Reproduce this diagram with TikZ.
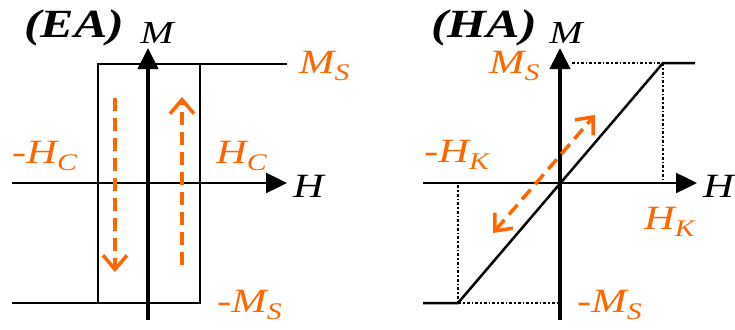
\documentclass[tikz,border=0pt]{standalone}
\usepackage{fontspec}
\setmainfont{Liberation Serif}[FakeStretch=1.25]
\usetikzlibrary{arrows.meta}
\definecolor{orng}{RGB}{255,102,0}

\begin{document}
\begin{tikzpicture}[x=1pt, y=-1pt,
  axis/.style={line width=2.5pt, -{Triangle[length=21pt, width=20pt]}},
  maxis/.style={axis, line width=4pt},
  loop/.style={line width=2.5pt},
  guide/.style={line width=2pt, dash pattern=on 3pt off 2pt on 1.5pt off 2pt},
  barb/.tip={Straight Barb[length=14pt, width=24pt]},
  sweep/.style={draw=orng, line width=3.5pt, dash pattern=on 13pt off 7pt, -barb},
  lbl/.style={font=\fontsize{34}{36}\selectfont\itshape, inner sep=0pt, anchor=west},
  axlbl/.style={lbl, font=\fontsize{32}{34}\selectfont\itshape, anchor=center},
  val/.style={lbl, text=orng},
  tag/.style={font=\fontsize{40}{42}\selectfont\bfseries\itshape, inner sep=0pt}]

\useasboundingbox (0,0) rectangle (735,329);

% ---------- Easy axis ----------
\node[tag]   (e-tag) at (74,28)   {(EA)};
\node[axlbl] (e-M)   at (157,33)  {M};
\node[lbl]   (e-H)   at (293,186) {H};
\node[val]   (e-Ms)  at (299,66)  {M\textsubscript{S}};
\node[val]   (e-mHc) at (12,156)  {-H\textsubscript{C}};
\node[val]   (e-Hc)  at (216,156) {H\textsubscript{C}};
\node[val]   (e-mMs) at (217,305) {-M\textsubscript{S}};

\coordinate (e-h0) at (12,183);
\coordinate (e-h1) at (287,183);
\coordinate (e-m0) at (148,320);
\coordinate (e-m1) at (148,48);
\coordinate (e-bl) at (12,303);
\coordinate (e-p1) at (98,303);
\coordinate (e-p2) at (98,64);
\coordinate (e-p3) at (200,64);
\coordinate (e-p4) at (200,303);
\coordinate (e-tr) at (287,64);
\coordinate (e-d0) at (115,98);
\coordinate (e-d1) at (115,272);
\coordinate (e-u0) at (182,265);
\coordinate (e-u1) at (182,97);

\draw[loop] (e-bl) -- (e-p1) -- (e-p2) -- (e-p3) -- (e-tr);
\draw[loop] (e-p3) -- (e-p4) -- (e-p1);
\draw[axis]  (e-h0) -- (e-h1);
\draw[maxis] (e-m0) -- (e-m1);
\draw[sweep] (e-d0) -- (e-d1);
\draw[sweep] (e-u0) -- (e-u1);

% ---------- Hard axis ----------
\node[tag]   (h-tag) at (484,28)  {(HA)};
\node[axlbl] (h-M)   at (566,33)  {M};
\node[lbl]   (h-H)   at (703,186) {H};
\node[val]   (h-Ms)  at (489,66)  {M\textsubscript{S}};
\node[val]   (h-mHk) at (424,155) {-H\textsubscript{K}};
\node[val]   (h-Hk)  at (644,222) {H\textsubscript{K}};
\node[val]   (h-mMs) at (577,305) {-M\textsubscript{S}};

\coordinate (h-h0) at (423,183);
\coordinate (h-h1) at (697,183);
\coordinate (h-m0) at (560,320);
\coordinate (h-m1) at (560,48);
\coordinate (h-bl) at (423,303);
\coordinate (h-lo) at (458,303);
\coordinate (h-hi) at (663,63);
\coordinate (h-tr) at (695,63);
\coordinate (h-my) at (572,63);
\coordinate (h-hx) at (663,181);
\coordinate (h-lx) at (458,185);
\coordinate (h-ly) at (558,303);
\coordinate (h-s0) at (493,233);
\coordinate (h-s1) at (595,115);

\draw[loop] (h-bl) -- (h-lo) -- (h-hi) -- (h-tr);
\foreach \a/\b in {my/hi, hi/hx, lx/lo, lo/ly} {
  \draw[guide] (h-\a) -- (h-\b);
}
\draw[axis]  (h-h0) -- (h-h1);
\draw[maxis] (h-m0) -- (h-m1);
\draw[sweep, barb-barb] (h-s0) -- (h-s1);
\end{tikzpicture}
\end{document}
